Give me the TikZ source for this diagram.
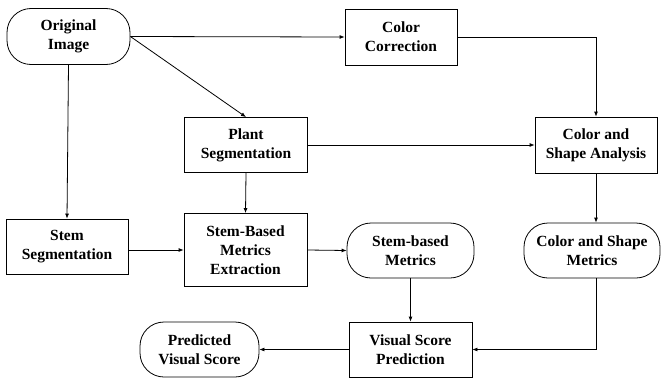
\documentclass[tikz,border=0pt]{standalone}
\usepackage{fontspec}
\setmainfont{Liberation Serif}
\usetikzlibrary{arrows.meta}
\begin{document}
\begin{tikzpicture}[x=1pt,y=-1pt,
  box/.style={draw, line width=0.8pt, align=center, font=\fontsize{15.5}{19}\selectfont\bfseries, inner sep=0pt},
  term/.style={box, rounded corners=24pt},
  arr/.style={line width=0.8pt, -{Latex[length=5pt,width=4pt]}}]
\useasboundingbox (0,0) rectangle (663,380);
\node[term, minimum width=123pt, minimum height=56pt] (orig) at (68.5,36.5) {Original\\Image};
\node[box, minimum width=112pt, minimum height=56pt] (cc) at (401,37) {Color\\Correction};
\node[box, minimum width=123pt, minimum height=55pt] (ps) at (246,145) {Plant\\Segmentation};
\node[box, minimum width=122pt, minimum height=56pt] (csa) at (596,145) {Color and\\Shape Analysis};
\node[box, minimum width=122pt, minimum height=55pt] (ss) at (67,246.5) {Stem\\Segmentation};
\node[box, minimum width=123pt, minimum height=73pt] (sbme) at (245.5,250) {Stem-Based\\Metrics\\Extraction};
\node[term, minimum width=127pt, minimum height=55pt] (sbm) at (410.5,250.5) {Stem-based\\Metrics};
\node[term, minimum width=136pt, minimum height=55pt] (csm) at (592,250.5) {Color and Shape\\Metrics};
\node[box, minimum width=123pt, minimum height=55pt] (vsp) at (410.5,349.5) {Visual Score\\Prediction};
\node[term, minimum width=119pt, minimum height=55pt] (pvs) at (199.5,349.5) {Predicted\\Visual Score};

\draw[arr] (orig.east) -- (cc.west);
\draw[arr] (orig.east) -- (ps.north);
\draw[arr] (orig.south) -- (ss.north);
\draw[arr] (cc.east) -| (csa.north);
\draw[arr] (ps.east) -- (csa.west);
\draw[arr] (ps.south) -- (sbme.north);
\draw[arr] (ss.east |- sbme.west) -- (sbme.west);
\draw[arr] (sbme.east) -- (sbm.west);
\draw[arr] (csa.south) -- (csa.south |- csm.north);
\draw[arr] (sbm.south) -- (vsp.north);
\draw[arr] (csa.south |- csm.south) |- (vsp.east);
\draw[arr] (vsp.west) -- (pvs.east);
\end{tikzpicture}
\end{document}
